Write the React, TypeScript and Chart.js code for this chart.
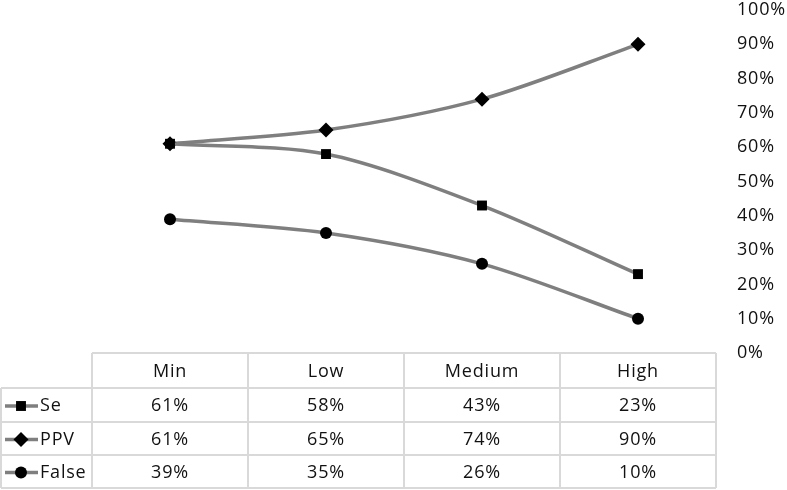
import React, { useEffect, useRef } from "react";
import { Chart, registerables } from "chart.js";

Chart.register(...registerables);

const categories = ["Min", "Low", "Medium", "High"];
const seValues = [61, 58, 43, 23];
const ppvValues = [61, 65, 74, 90];
const falseValues = [39, 35, 26, 10];
const seriesNames = ["Se", "PPV", "False"];
const markerStyles = ["rect", "rectRot", "circle"];
const markerRadii = [7, 7.5, 6];
const yTicks = [0, 10, 20, 30, 40, 50, 60, 70, 80, 90, 100];

const LINE = "#7f7f7f";
const BORDER = "#d9d9d9";
const TEXT = "#111111";
const FONT = "'Open Sans', Lato, sans-serif";
const FONT_SIZE = 18;
const SPACING = "0.8px";
const ROW_H = [35, 34, 33, 33];
const LABEL_COL_LEFT = 1;

function drawMarker(ctx: CanvasRenderingContext2D, style: string, x: number, y: number, r: number) {
  ctx.beginPath();
  if (style === "rect") {
    const s = r * Math.SQRT1_2;
    ctx.rect(x - s, y - s, s * 2, s * 2);
  } else if (style === "rectRot") {
    ctx.moveTo(x, y - r);
    ctx.lineTo(x + r, y);
    ctx.lineTo(x, y + r);
    ctx.lineTo(x - r, y);
    ctx.closePath();
  } else {
    ctx.arc(x, y, r, 0, Math.PI * 2);
  }
  ctx.fill();
}

const spacingPlugin = {
  id: "spacing",
  beforeDraw(chart: any) {
    (chart.ctx as any).letterSpacing = SPACING;
  },
};

const tablePlugin = {
  id: "dataTable",
  afterDraw(chart: any) {
    const ctx = chart.ctx;
    const xs = chart.scales.x;
    const area = chart.chartArea;
    const n = categories.length;
    const colW = (area.right - area.left) / n;
    const top = area.bottom;
    const rows = [seValues, ppvValues, falseValues];
    ctx.save();
    (ctx as any).letterSpacing = SPACING;
    ctx.strokeStyle = BORDER;
    ctx.lineWidth = 2;
    const ys: number[] = [top];
    for (let i = 0; i < ROW_H.length; i++) ys.push(ys[i] + ROW_H[i]);
    ctx.beginPath();
    ctx.moveTo(area.left, ys[0]);
    ctx.lineTo(area.right, ys[0]);
    for (let i = 1; i < ys.length; i++) {
      ctx.moveTo(LABEL_COL_LEFT, ys[i]);
      ctx.lineTo(area.right, ys[i]);
    }
    for (let c = 0; c <= n; c++) {
      const x = area.left + c * colW;
      ctx.moveTo(x, ys[0]);
      ctx.lineTo(x, ys[ys.length - 1]);
    }
    ctx.moveTo(LABEL_COL_LEFT, ys[1]);
    ctx.lineTo(LABEL_COL_LEFT, ys[ys.length - 1]);
    ctx.stroke();

    ctx.fillStyle = TEXT;
    ctx.font = `${FONT_SIZE}px ${FONT}`;
    ctx.textAlign = "center";
    ctx.textBaseline = "middle";
    categories.forEach((cat, i) => {
      const x = xs.getPixelForValue(i);
      ctx.fillText(cat, x, (ys[0] + ys[1]) / 2 + 1);
    });
    rows.forEach((vals, r) => {
      const yc = (ys[r + 1] + ys[r + 2]) / 2 + 1;
      ctx.textAlign = "center";
      ctx.fillStyle = TEXT;
      vals.forEach((v, i) => {
        const x = xs.getPixelForValue(i);
        ctx.fillText(v + "%", x, yc);
      });
      ctx.save();
      ctx.strokeStyle = LINE;
      ctx.lineWidth = 3.5;
      ctx.beginPath();
      ctx.moveTo(5, yc);
      ctx.lineTo(38, yc);
      ctx.stroke();
      ctx.fillStyle = "#000";
      const ds = chart.data.datasets[r];
      drawMarker(ctx, ds.pointStyle, 21, yc, ds.pointRadius);
      ctx.restore();
      ctx.textAlign = "left";
      ctx.fillStyle = TEXT;
      ctx.fillText(seriesNames[r], 40, yc);
    });
    ctx.restore();
  },
};

export default function App() {
  const ref = useRef<HTMLCanvasElement>(null);
  useEffect(() => {
    document.body.style.margin = "0";
    const seriesData = [seValues, ppvValues, falseValues];
    const chart = new Chart(ref.current!, {
      type: "line",
      data: {
        labels: categories,
        datasets: seriesData.map((d, i) => ({
          label: seriesNames[i],
          data: d,
          borderColor: LINE,
          borderWidth: 3.5,
          backgroundColor: "#000",
          pointBackgroundColor: "#000",
          pointBorderColor: "#000",
          pointBorderWidth: 0,
          pointStyle: markerStyles[i] as any,
          pointRadius: markerRadii[i],
          tension: 0.3,
          fill: false,
        })),
      },
      options: {
        animation: false,
        responsive: false,
        maintainAspectRatio: false,
        layout: { padding: { left: 92, top: 10, bottom: 137, right: 0 } },
        plugins: { legend: { display: false }, tooltip: { enabled: false } },
        scales: {
          x: { display: false, offset: true },
          y: {
            position: "right",
            min: 0,
            max: 100,
            afterFit: (s: any) => {
              s.width = 71;
              s.paddingTop = 10;
              s.paddingBottom = 0;
            },
            afterBuildTicks: (s: any) => {
              s.ticks = yTicks.map((v) => ({ value: v }));
            },
            grid: { display: false, drawTicks: false },
            border: { display: false },
            ticks: {
              padding: 21,
              color: TEXT,
              font: { family: FONT, size: FONT_SIZE },
              callback: (v: any) => v + "%",
            },
          },
        },
      },
      plugins: [spacingPlugin, tablePlugin],
    });
    return () => chart.destroy();
  }, []);
  return (
    <div style={{ position: "absolute", left: 0, top: 0, width: 787, height: 490, background: "#fff" }}>
      <canvas ref={ref} width={787} height={490} style={{ width: 787, height: 490 }} />
    </div>
  );
}
